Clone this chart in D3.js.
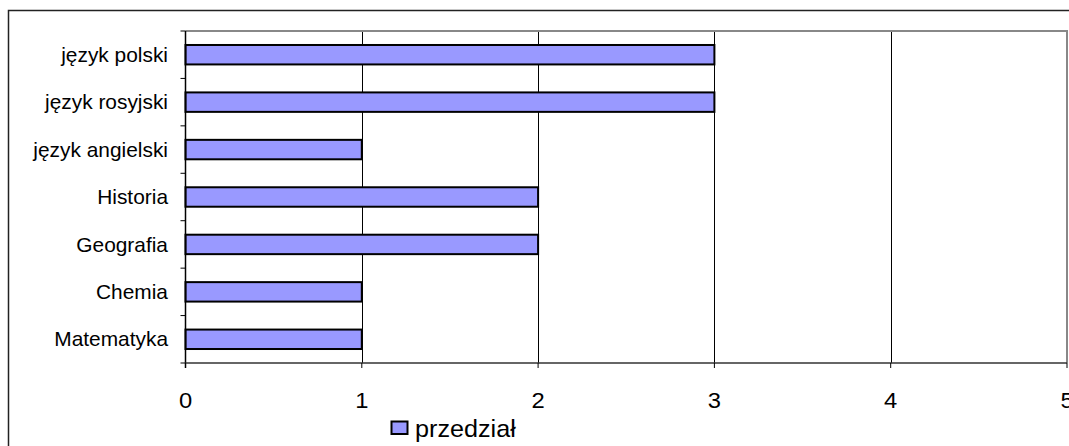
<!DOCTYPE html>
<html><head><meta charset="utf-8">
<script src="https://cdn.jsdelivr.net/npm/d3@7"></script>
<style>body{margin:0;background:#fff}svg{display:block}text{font-family:"Liberation Sans",Arial,sans-serif;fill:#000}</style>
</head><body>
<svg id="c" width="1069" height="446"></svg>
<script>
const categories = ["język polski","język rosyjski","język angielski","Historia","Geografia","Chemia","Matematyka"];
const values = [3,3,1,2,2,1,1];
const xTicks = [0,1,2,3,4,5];
const seriesName = "przedział";

const svg = d3.select("#c");
const L=185.5, R=1067, T=31, B=363;
const x = d3.scaleLinear().domain([0,5]).range([L,R]);
const y = d3.scaleBand().domain(categories).range([T,B]).paddingInner(0.59).paddingOuter(0.295);

// outer border
svg.append("rect").attr("x",8.5).attr("y",10.5).attr("width",1080).attr("height",460)
  .attr("fill","none").attr("stroke","#222").attr("stroke-width",1.5);

// gridlines
svg.append("g").selectAll("line").data(xTicks.filter(d=>d>0&&d<5)).join("line")
  .attr("x1",d=>Math.round(x(d))+0.5).attr("x2",d=>Math.round(x(d))+0.5).attr("y1",T).attr("y2",B)
  .attr("stroke","#000").attr("stroke-width",1);

// plot border top & right (gray)
svg.append("path").attr("d",`M${L},${T}H${R}V${B}`).attr("fill","none").attr("stroke","#888").attr("stroke-width",2);

// bars
svg.append("g").selectAll("rect").data(categories).join("rect")
  .attr("x",x(0)).attr("y",d=>y(d)).attr("width",(d,i)=>x(values[i])-x(0)).attr("height",y.bandwidth())
  .attr("fill","#9999FF").attr("stroke","#000").attr("stroke-width",2);

// y axis
const yb = categories.map(c=>y(c)-y.step()*y.paddingInner()/2);
yb.push(B);
svg.append("line").attr("x1",L).attr("x2",L).attr("y1",T).attr("y2",B+5).attr("stroke","#000").attr("stroke-width",1.5);
svg.append("g").selectAll("line").data(yb).join("line")
  .attr("x1",L-5).attr("x2",L).attr("y1",d=>d).attr("y2",d=>d).attr("stroke","#000").attr("stroke-width",1);
svg.append("g").selectAll("text").data(categories).join("text")
  .attr("transform",d=>`translate(168,${y(d)+y.bandwidth()/2}) scale(1.045,1)`).attr("dy","0.36em")
  .attr("text-anchor","end").style("font-size","20px").text(d=>d);

// x axis
svg.append("line").attr("x1",L).attr("x2",R).attr("y1",B).attr("y2",B).attr("stroke","#333").attr("stroke-width",1.5);
svg.append("g").selectAll("line").data(xTicks).join("line")
  .attr("x1",d=>x(d)).attr("x2",d=>x(d)).attr("y1",B).attr("y2",B+5).attr("stroke","#000").attr("stroke-width",1);
svg.append("g").selectAll("text").data(xTicks).join("text")
  .attr("transform",d=>`translate(${x(d)},407.5) scale(1.08,1)`).attr("text-anchor","middle").style("font-size","22px").text(d=>d);

// legend
svg.append("rect").attr("x",391.5).attr("y",421.5).attr("width",16).attr("height",12.5)
  .attr("fill","#9999FF").attr("stroke","#000").attr("stroke-width",2);
svg.append("text").attr("transform","translate(415,437) scale(1.05,1)").style("font-size","24px").text(seriesName);
</script></body></html>
